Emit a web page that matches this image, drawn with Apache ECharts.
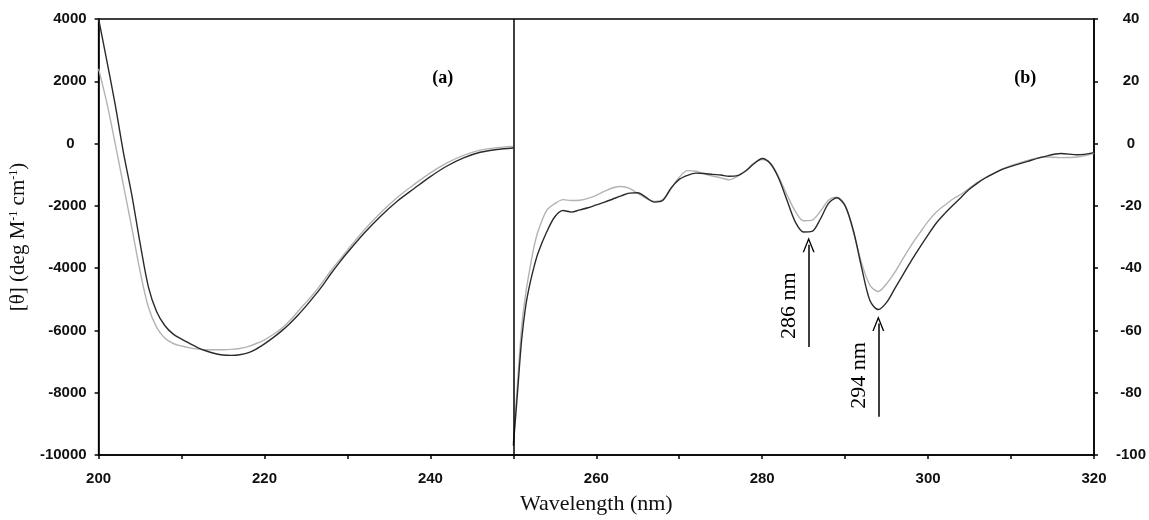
<!DOCTYPE html>
<html><head><meta charset="utf-8">
<script src="https://cdn.jsdelivr.net/npm/echarts@6/dist/echarts.min.js"></script>
<style>html,body{margin:0;padding:0;background:#fff}#c{width:1149px;height:520px}</style>
</head><body><div id="c"></div>
<script>
// ---- Panel (a): far-UV, left axis ----
const wavelengthsA = [200,201,202,203,204,205,206,207,208,209,210,211,212,213,214,215,216,217,218,219,220,221,222,223,224,225,226,227,228,229,230,232,234,236,238,240,242,244,246,248,250];
const blackA = [4000,2650,1250,-300,-1650,-3200,-4600,-5400,-5850,-6120,-6280,-6420,-6560,-6660,-6740,-6790,-6800,-6780,-6720,-6600,-6430,-6240,-6030,-5790,-5520,-5220,-4900,-4560,-4180,-3830,-3500,-2880,-2330,-1850,-1450,-1060,-720,-460,-280,-190,-140];
const greyA  = [2400,1300,0,-1350,-2700,-4100,-5250,-5900,-6250,-6420,-6500,-6560,-6600,-6620,-6620,-6620,-6610,-6580,-6520,-6420,-6300,-6140,-5950,-5700,-5400,-5100,-4800,-4450,-4080,-3750,-3420,-2780,-2220,-1730,-1320,-940,-620,-380,-210,-130,-90];

// ---- Panel (b): near-UV, right axis ----
const wavelengthsB = [250,250.5,251,251.5,252,252.5,253,254,255,256,257,258,259,260,261,262,263,264,265,266,267,268,269,270,271,272,273,274,275,276,277,278,279,280,281,282,283,284,285,286,287,288,289,290,291,292,293,294,295,296,297,298,299,300,301,302,303,304,305,306,307,308,309,310,312,314,316,318,320];
const blackB = [-97,-80,-63,-52,-45,-39.5,-35,-28.5,-23.5,-21.5,-22,-21.3,-20.6,-19.7,-18.8,-17.8,-16.8,-15.9,-15.8,-17.3,-18.8,-18.3,-14.3,-11.5,-10.2,-9.5,-9.6,-9.9,-10.1,-10.5,-10.3,-8.8,-6.5,-4.8,-6.5,-11.2,-18.3,-25.2,-28.4,-28.2,-24.3,-19.2,-17.4,-20,-28,-40,-50.5,-53.3,-51,-46.5,-42,-37.5,-33.3,-29.3,-25.5,-22.5,-19.8,-17.2,-14.6,-12.6,-10.9,-9.5,-8.2,-7.3,-5.7,-4.2,-3.2,-3.6,-2.9];
const greyB  = [-96,-77,-59,-48,-40,-33,-28,-21.5,-19.3,-18,-18.3,-18.2,-17.6,-16.6,-15.3,-14.2,-13.8,-14.4,-16,-17.6,-18.6,-18,-14.6,-10.8,-8.7,-8.9,-9.7,-10.4,-11,-11.6,-10.5,-8.8,-6.3,-5.1,-6.3,-10.8,-16.5,-21.8,-24.8,-24.6,-21.8,-18.2,-17.2,-19.8,-28.5,-38.5,-45.5,-47.5,-45,-41.3,-36.8,-32.5,-28.7,-25,-22,-19.8,-17.8,-16.2,-14.3,-12.4,-10.8,-9.4,-8.1,-7.1,-5.4,-4.3,-4.5,-4.3,-3.1];

// ---- Axes ----
const xMin = 200, xMax = 320, xTickStep = 10, xLabelStep = 20;
const yLeftMin = -10000, yLeftMax = 4000, yLeftStep = 2000;
const yRightMin = -100, yRightMax = 40, yRightStep = 20;
const dividerX = 250;

// ---- Annotations (data units) ----
const arrowX = [285.6, 294.0];
const arrowFrom = [-65.3, -87.7];
const arrowTo = [-32.5, -57.8];
const arrowText = ['286 nm', '294 nm'];
const panelLabels = ['(a)', '(b)'];
const panelLabelA = [241.5, 2080];
const panelLabelB = [311.7, 20.8];

const zip = (xs, ys) => xs.map((x, i) => [x, ys[i]]);
const tickFont = {fontFamily: 'Liberation Sans', fontWeight: 'bold', fontSize: 15, color: '#111'};
const serif = 'Liberation Serif';
const BLACK = '#2a2a2a', GREY = '#b3b3b3';

const chevron = 'path://M0,14 L6,0 L12,14 L10.6,14 L6,3.2 L1.4,14 Z';

const chart = echarts.init(document.getElementById('c'), null, {renderer: 'canvas'});
chart.setOption({
  animation: false,
  backgroundColor: '#fff',
  grid: {left: 96, right: 55, top: 19, bottom: 63, show: true, borderColor: '#000', borderWidth: 1.5, backgroundColor: 'transparent'},
  xAxis: {
    type: 'value', min: xMin, max: xMax, interval: xTickStep,
    name: 'Wavelength (nm)', nameLocation: 'middle', nameGap: 38,
    nameTextStyle: {fontFamily: serif, fontSize: 22, color: '#111'},
    axisLine: {show: true, onZero: false, lineStyle: {color: '#000', width: 1.5}},
    axisTick: {show: true, inside: false, length: 4, lineStyle: {color: '#000', width: 1.5}},
    axisLabel: Object.assign({margin: 16, formatter: v => (v % xLabelStep === 0 ? String(v) : '')}, tickFont),
    splitLine: {show: false}
  },
  yAxis: [{
    type: 'value', position: 'left', min: yLeftMin, max: yLeftMax, interval: yLeftStep,
    name: '[θ] (deg M{s|-1} cm{s|-1})', nameLocation: 'middle', nameGap: 60,
    nameTextStyle: {fontFamily: serif, fontSize: 21, color: '#111',
      rich: {s: {fontFamily: serif, fontSize: 12, verticalAlign: 'top', padding: [0, 0, 8, 0], color: '#111'}}},
    axisLine: {show: true, onZero: false, lineStyle: {color: '#000', width: 1.5}},
    axisTick: {show: true, inside: false, length: 4, lineStyle: {color: '#000', width: 1.5}},
    axisLabel: Object.assign({margin: 12,
      formatter: v => (v === 0 ? '{z|0}' : String(v)),
      rich: {z: Object.assign({padding: [0, 12, 0, 0]}, tickFont)}}, tickFont),
    splitLine: {show: false}
  }, {
    type: 'value', position: 'right', min: yRightMin, max: yRightMax, interval: yRightStep,
    axisLine: {show: true, onZero: false, lineStyle: {color: '#000', width: 1.5}},
    axisTick: {show: true, inside: false, length: 4, lineStyle: {color: '#000', width: 1.5}},
    axisLabel: Object.assign({margin: 37, align: 'center', formatter: v => String(v)}, tickFont),
    splitLine: {show: false}
  }],
  series: [
    {type: 'line', name: 'grey a', xAxisIndex: 0, yAxisIndex: 0, data: zip(wavelengthsA, greyA), showSymbol: false, smooth: 0.3,
      lineStyle: {color: GREY, width: 1.4}, z: 2},
    {type: 'line', name: 'black a', xAxisIndex: 0, yAxisIndex: 0, data: zip(wavelengthsA, blackA), showSymbol: false, smooth: 0.3,
      lineStyle: {color: BLACK, width: 1.4}, z: 3,
      markLine: {silent: true, symbol: 'none', label: {show: false},
        lineStyle: {color: '#000', width: 1.5, type: 'solid'},
        data: [{xAxis: dividerX}]},
      markPoint: {silent: true, symbol: 'circle', symbolSize: 1, itemStyle: {color: 'rgba(0,0,0,0)'},
        label: {show: true, position: 'inside', formatter: panelLabels[0], fontFamily: serif, fontWeight: 'bold', fontSize: 18, color: '#000'},
        data: [{coord: panelLabelA}]}},
    {type: 'line', name: 'grey b', xAxisIndex: 0, yAxisIndex: 1, data: zip(wavelengthsB, greyB), showSymbol: false, smooth: 0.3,
      lineStyle: {color: GREY, width: 1.4}, z: 2},
    {type: 'line', name: 'black b', xAxisIndex: 0, yAxisIndex: 1, data: zip(wavelengthsB, blackB), showSymbol: false, smooth: 0.3,
      lineStyle: {color: BLACK, width: 1.4}, z: 3,
      markPoint: {silent: true, symbol: 'circle', symbolSize: 1, itemStyle: {color: 'rgba(0,0,0,0)'},
        label: {show: true, position: 'inside', formatter: panelLabels[1], fontFamily: serif, fontWeight: 'bold', fontSize: 18, color: '#000'},
        data: [{coord: panelLabelB}]},
      markLine: {silent: true, symbol: ['none', chevron], symbolSize: [12, 15],
        lineStyle: {color: '#000', width: 1.5, type: 'solid'},
        label: {show: true, position: 'insideStartTop', distance: 8, fontFamily: serif, fontSize: 22, color: '#000', formatter: p => p.name},
        data: arrowX.map((x, i) => [
          {name: arrowText[i], coord: [x, arrowFrom[i]]},
          {coord: [x, arrowTo[i]]}
        ])}}
  ]
});
</script>
</body></html>
